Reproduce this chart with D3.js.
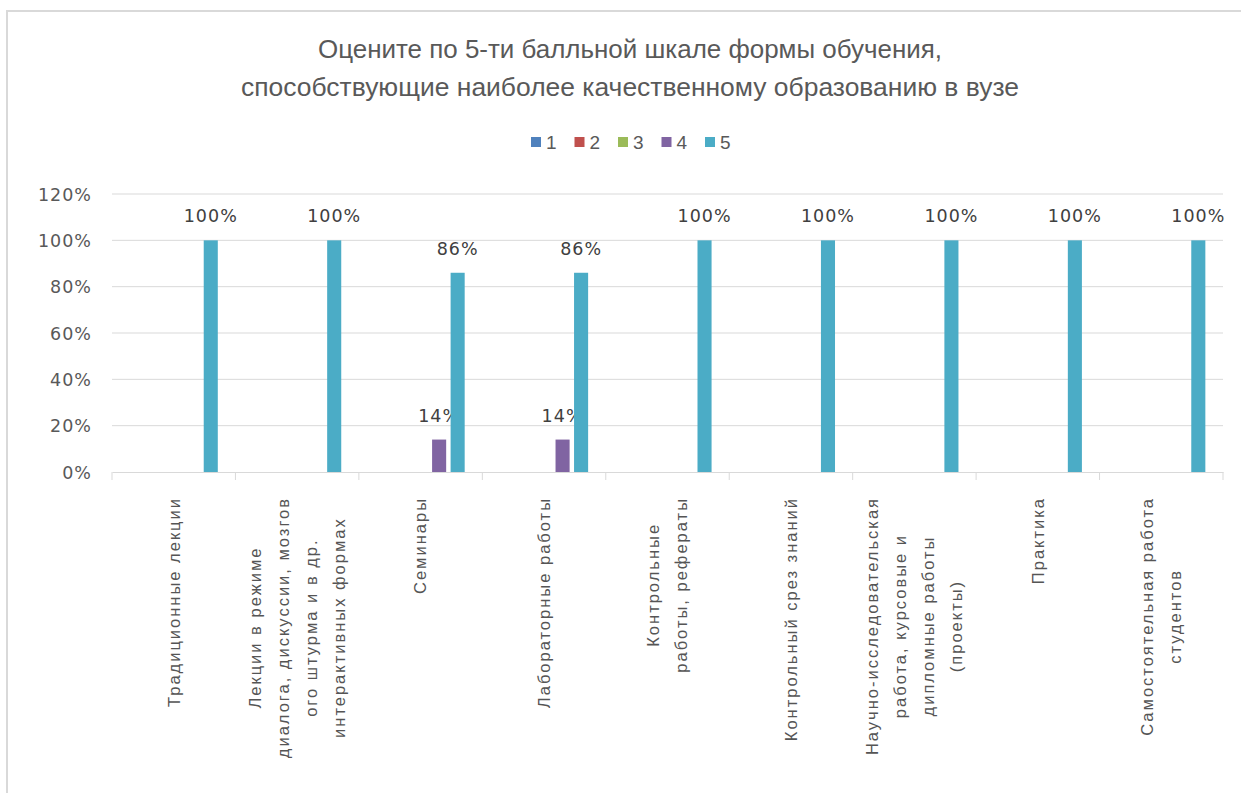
<!DOCTYPE html>
<html>
<head>
<meta charset="utf-8">
<script src="https://cdn.jsdelivr.net/npm/d3@7"></script>
<style>
  html, body { margin: 0; padding: 0; background: #ffffff; }
  svg { display: block; }
</style>
</head>
<body>
<svg id="chart" width="1241" height="793"></svg>
<script>
// ---- DATA ----
const titleLines = [
  "Оцените по 5-ти балльной шкале формы обучения,",
  "способствующие наиболее  качественному образованию в вузе"
];
const categories = [
  "Традиционные лекции",
  "Лекции в режиме\nдиалога, дискуссии, мозгов\nого штурма и в др.\nинтерактивных формах",
  "Семинары",
  "Лабораторные работы",
  "Контрольные\nработы, рефераты",
  "Контрольный срез знаний",
  "Научно-исследовательская\nработа, курсовые и\nдипломные работы\n(проекты)",
  "Практика",
  "Самостоятельная работа\nстудентов"
];
const seriesNames = ["1", "2", "3", "4", "5"];
const series1 = [0, 0, 0, 0, 0, 0, 0, 0, 0];
const series2 = [0, 0, 0, 0, 0, 0, 0, 0, 0];
const series3 = [0, 0, 0, 0, 0, 0, 0, 0, 0];
const series4 = [0, 0, 0.14, 0.14, 0, 0, 0, 0, 0];
const series5 = [1, 1, 0.86, 0.86, 1, 1, 1, 1, 1];
const seriesColors = ["#4f81bd", "#c0504d", "#9bbb59", "#8064a2", "#4bacc6"];
const yTicks = [0, 0.2, 0.4, 0.6, 0.8, 1.0, 1.2];

const seriesValues = [series1, series2, series3, series4, series5];

// ---- LAYOUT ----
const svg = d3.select("#chart");
const plot = { left: 112, right: 1223, top: 194, bottom: 472 };

// frame
svg.append("rect")
  .attr("x", 7).attr("y", 11).attr("width", 1400).attr("height", 1000)
  .attr("fill", "none").attr("stroke", "#d9d9d9").attr("stroke-width", 2);

// title
const title = svg.append("g");
titleLines.forEach((t, i) => {
  title.append("text")
    .attr("x", 630).attr("y", 58 + i * 38)
    .attr("text-anchor", "middle")
    .attr("font-family", "Liberation Sans, Arial, sans-serif")
    .attr("font-size", 25)
    .attr("fill", "#595959")
    .attr("textLength", i === 0 ? 624 : 778)
    .attr("lengthAdjust", "spacingAndGlyphs")
    .text(t);
});

// legend
const legend = svg.append("g");
const legendX = d3.scalePoint().domain(seriesNames).range([531, 705]);
seriesNames.forEach((s, i) => {
  const g = legend.append("g").attr("transform", `translate(${legendX(s)},0)`);
  g.append("rect").attr("x", 0).attr("y", 137).attr("width", 10).attr("height", 10)
    .attr("fill", seriesColors[i]);
  g.append("text").attr("x", 15).attr("y", 149)
    .attr("font-family", "Liberation Sans, Arial, sans-serif")
    .attr("font-size", 19)
    .attr("fill", "#595959")
    .text(s);
});

// scales
const x0 = d3.scaleBand().domain(categories).range([plot.left, plot.right]).padding(0);
const groupW = x0.bandwidth() * 0.75;
const x1 = d3.scaleBand().domain(seriesNames)
  .range([(x0.bandwidth() - groupW) / 2, (x0.bandwidth() + groupW) / 2])
  .paddingInner(0.24).paddingOuter(0.12);
const y = d3.scaleLinear().domain([0, 1.2]).range([plot.bottom, plot.top]);

// gridlines
svg.append("g").selectAll("line").data(yTicks.filter(d => d > 0)).join("line")
  .attr("x1", plot.left).attr("x2", plot.right)
  .attr("y1", d => y(d)).attr("y2", d => y(d))
  .attr("stroke", "#d9d9d9").attr("stroke-width", 1);

// y axis labels
const yAxis = d3.axisLeft(y).tickValues(yTicks).tickFormat(d3.format(".0%")).tickSize(0).tickPadding(0);
const yg = svg.append("g").attr("transform", `translate(92,0)`).call(yAxis);
yg.select(".domain").remove();
yg.selectAll("text")
  .attr("font-family", "DejaVu Sans, sans-serif")
  .attr("font-size", 17.5)
  .attr("letter-spacing", 1)
  .attr("fill", "#595959")
  .attr("dy", "0.35em");

// bars
const barsG = svg.append("g");
categories.forEach((c, ci) => {
  seriesNames.forEach((s, si) => {
    const v = seriesValues[si][ci];
    if (v <= 0) return;
    barsG.append("rect")
      .attr("x", x0(c) + x1(s))
      .attr("y", y(v))
      .attr("width", x1.bandwidth())
      .attr("height", y(0) - y(v))
      .attr("fill", seriesColors[si]);
    barsG.append("text")
      .attr("x", x0(c) + x1(s) + x1.bandwidth() / 2)
      .attr("y", y(v) - 18)
      .attr("text-anchor", "middle")
      .attr("font-family", "DejaVu Sans, sans-serif")
      .attr("font-size", 17.5)
      .attr("letter-spacing", 1)
      .attr("fill", "#404040")
      .text(d3.format(".0%")(v));
  });
});

// x axis line + ticks
const xAxis = d3.axisBottom(x0).tickSize(0).tickFormat("");
const xg = svg.append("g").attr("transform", `translate(0,${plot.bottom})`).call(xAxis);
xg.select(".domain").attr("stroke", "#d9d9d9");
const boundaries = categories.map(c => x0(c)).concat([plot.right]);
svg.append("g").selectAll("line").data(boundaries).join("line")
  .attr("x1", d => d).attr("x2", d => d)
  .attr("y1", plot.bottom).attr("y2", plot.bottom + 8)
  .attr("stroke", "#d9d9d9");

// category labels (rotated, multi-line, block top-anchored, lines centered)
const labG = svg.append("g");
const lineStep = 28;
categories.forEach(c => {
  const lines = c.split("\n");
  const cx = x0(c) + x0.bandwidth() / 2;
  const texts = lines.map((ln, i) => labG.append("text")
    .attr("font-family", "Liberation Sans, Arial, sans-serif")
    .attr("font-size", 16.5)
    .attr("letter-spacing", 2)
    .attr("fill", "#555555")
    .attr("text-anchor", "middle")
    .attr("dy", "0.35em")
    .text(ln));
  const lens = texts.map(t => t.node().getComputedTextLength());
  const L = d3.max(lens);
  texts.forEach((t, i) => {
    const lx = cx + (i - (lines.length - 1) / 2) * lineStep;
    t.attr("transform", `translate(${lx},${497 + L / 2}) rotate(-90)`);
  });
});
</script>
</body>
</html>
